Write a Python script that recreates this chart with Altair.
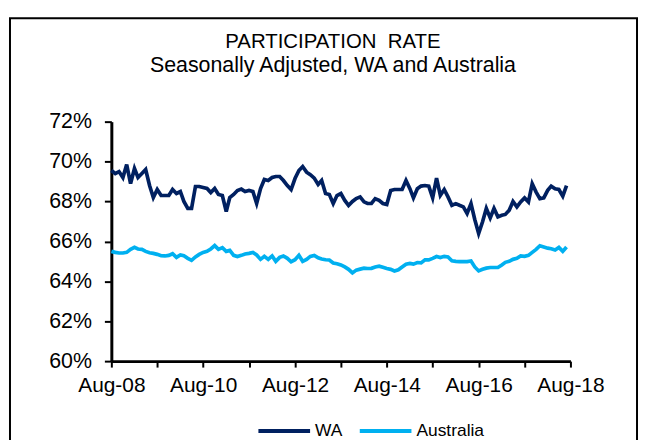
import altair as alt
import pandas as pd

# ---- data ----
months = pd.date_range("2008-08-01", periods=120, freq="MS").strftime("%Y-%m-%d").tolist()

wa = [
    69.55, 69.4, 69.5, 69.2, 69.85, 68.9, 69.65, 69.2, 69.4, 69.6, 68.8, 68.2,
    68.6, 68.3, 68.3, 68.3, 68.6, 68.4, 68.5, 68.0, 67.65, 67.65, 68.75, 68.75,
    68.7, 68.65, 68.45, 68.65, 68.35, 68.3, 67.5, 68.2, 68.35, 68.55, 68.62, 68.5,
    68.55, 68.5, 67.9, 68.65, 69.1, 69.05, 69.2, 69.25, 69.25, 69.05, 68.8, 68.6,
    69.15, 69.55, 69.75, 69.47, 69.34, 69.17, 68.85, 69.05, 68.4, 68.35, 67.9, 68.3,
    68.4, 68.05, 67.8, 68.0, 68.15, 68.23, 67.98, 67.9, 67.9, 68.14, 68.06, 67.9,
    67.85, 68.55, 68.6, 68.6, 68.6, 69.05, 68.64, 68.18, 68.64, 68.77, 68.8, 68.77,
    68.18, 69.17, 68.31, 68.6, 68.23, 67.81, 67.89, 67.81, 67.73, 67.4, 67.89, 67.1,
    66.4, 66.98, 67.65, 67.18, 67.65, 67.23, 67.31, 67.35, 67.56, 68.0, 67.73, 67.98,
    68.18, 67.98, 68.89, 68.47, 68.14, 68.18, 68.56, 68.77, 68.64, 68.6, 68.27, 68.8,
]

australia = [
    65.5, 65.45, 65.42, 65.42, 65.45, 65.6, 65.7, 65.62, 65.6, 65.5, 65.43, 65.4,
    65.35, 65.28, 65.27, 65.3, 65.38, 65.2, 65.32, 65.28, 65.15, 65.05, 65.22, 65.35,
    65.45, 65.5, 65.62, 65.79, 65.6, 65.69, 65.5, 65.55, 65.3, 65.24, 65.3, 65.37,
    65.4, 65.44, 65.32, 65.1, 65.25, 65.1, 65.27, 65.0, 65.2, 65.27, 65.15, 64.98,
    65.08, 65.3, 65.0, 65.1, 65.25, 65.3, 65.18, 65.12, 65.08, 65.07, 64.92, 64.88,
    64.82, 64.72, 64.6, 64.42, 64.56, 64.61, 64.66, 64.64, 64.65, 64.72, 64.76, 64.7,
    64.64, 64.6, 64.52, 64.58, 64.72, 64.86, 64.9, 64.86, 64.94, 64.92, 65.08, 65.07,
    65.15, 65.24, 65.19, 65.25, 65.22, 65.03, 65.0, 64.99, 64.99, 64.99, 65.02, 64.72,
    64.52, 64.6, 64.66, 64.69, 64.69, 64.69, 64.82, 64.95, 65.0, 65.1, 65.15, 65.27,
    65.25, 65.3, 65.45, 65.6, 65.78, 65.72, 65.66, 65.63, 65.57, 65.7, 65.5, 65.72,
]

series_names = ["WA", "Australia"]
series_colors = ["#002060", "#00B0F0"]
y_ticks = [60, 62, 64, 66, 68, 70, 72]
tick_years = list(range(2008, 2019))

title_text = "PARTICIPATION\u00a0 RATE"
subtitle_text = "Seasonally Adjusted, WA and Australia"

# ---- build table ----
df = pd.DataFrame({
    "month": months * 2,
    "rate": wa + australia,
    "series": [series_names[0]] * len(wa) + [series_names[1]] * len(australia),
})

FONT = "Liberation Sans, Arial, sans-serif"

x_axis = alt.Axis(
    values=[alt.DateTime(year=y, month=8, date=1, utc=True) for y in tick_years],
    labelExpr="utcyear(datum.value) % 2 == 0 ? utcFormat(datum.value, '%b-%y') : ''",
    title=None, grid=False, labelOverlap=False, labelFlush=False,
    domainColor="black", domainWidth=3, tickColor="black", tickWidth=2, tickSize=6,
    labelFont=FONT, labelFontSize=21, labelColor="black", labelPadding=8,
)
y_axis = alt.Axis(
    values=y_ticks, labelExpr="datum.value + '%'",
    title=None, grid=False, labelFlush=False,
    domainColor="black", domainWidth=3, tickColor="black", tickWidth=2, tickSize=7,
    labelFont=FONT, labelFontSize=21.5, labelColor="black", labelPadding=13,
)

lines = alt.Chart(df).mark_line(strokeWidth=3.7).encode(
    x=alt.X("month:T", axis=x_axis,
            scale=alt.Scale(type="utc", nice=False,
                            domain=[alt.DateTime(year=2008, month=8, date=1, utc=True),
                                    alt.DateTime(year=2018, month=8, date=1, utc=True)])),
    y=alt.Y("rate:Q", axis=y_axis, scale=alt.Scale(domain=[60, 72], nice=False, zero=False)),
    color=alt.Color("series:N", sort=series_names,
                    scale=alt.Scale(domain=series_names, range=series_colors),
                    legend=alt.Legend(
                        orient="none", legendX=146, legendY=283, direction="horizontal",
                        title=None, symbolType="stroke", symbolSize=2704, symbolStrokeWidth=4,
                        labelFont=FONT, labelFontSize=17.5, labelColor="black",
                        labelOffset=3, columnPadding=9,
                    )),
)

frame = alt.Chart(alt.Data(values=[{"k": 1}])).mark_rect(
    fillOpacity=0, stroke="black", strokeWidth=2
).encode(
    x=alt.value(-102), x2=alt.value(529), y=alt.value(-104), y2=alt.value(340)
)

chart = alt.layer(frame, lines).properties(
    width=462, height=241,
    autosize=alt.AutoSizeParams(type="none"),
    padding={"left": 104, "top": 113, "right": 69, "bottom": 78},
    title=alt.TitleParams(
        text=title_text, subtitle=subtitle_text, anchor="middle", frame="group", dx=-8,
        font=FONT, fontSize=20.5, fontWeight="normal", color="black",
        subtitleFont=FONT, subtitleFontSize=21.5, subtitleColor="black", subtitlePadding=3,
        offset=-60,
    ),
).configure_view(stroke=None)

chart.save("out.html", embed_options={"renderer": "svg", "actions": False})
